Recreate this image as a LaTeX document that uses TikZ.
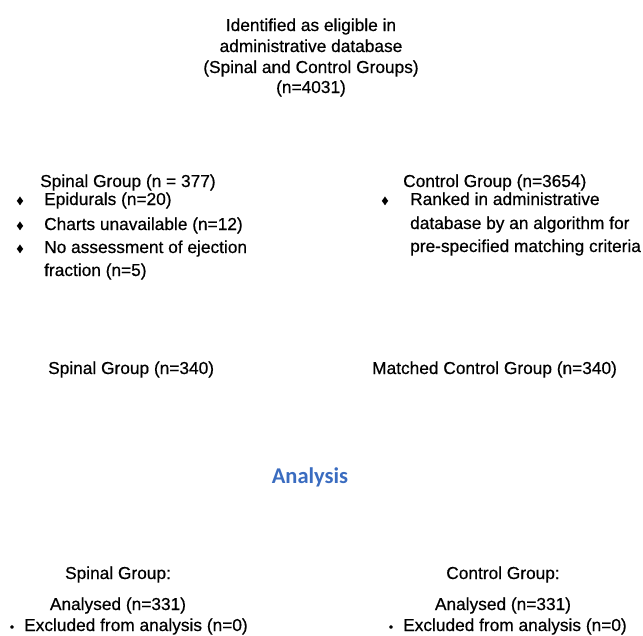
\documentclass[tikz,border=0pt]{standalone}
\usepackage{fontspec}
\setmainfont[FakeBold=0.5]{Liberation Sans}
\newfontfamily\calibrifont{Carlito}
\definecolor{analysisblue}{RGB}{58,108,192}
\tikzset{
    txt/.style={inner sep=0pt, anchor=base west, font=\fontsize{17.3}{21}\selectfont},
    ctxt/.style={inner sep=0pt, anchor=base, font=\fontsize{17.3}{21}\selectfont},
    dmd/.style={inner sep=0pt, anchor=base, font=\fontsize{14}{14}\selectfont},
    dot/.style={inner sep=0pt, anchor=base, font=\fontsize{12}{12}\selectfont},
}
\begin{document}
\begin{tikzpicture}[x=1pt, y=-1pt]
    \useasboundingbox (0,0) rectangle (643,635);
    % eligible population
    \foreach \y/\ytext [count=\i] in {31/Identified as eligible in,52/administrative database,73/(Spinal and Control Groups),93/(n=4031)}
    {
        \node[ctxt] (elig\i) at (311,\y) {\ytext};
    }

    % exclusions, spinal side
    \node[txt] (spinhead) at (40,187) {Spinal Group (n = 377)};
    \foreach \y/\ytext [count=\i] in {205/Epidurals (n=20),230/Charts unavailable (n=12),253/No assessment of ejection}
    {
        \node[dmd] (spindmd\i) at (20,\y) {♦};
        \node[txt] (spinitem\i) at (44,\y) {\ytext};
    }
    \node[txt] (spinitem4) at (44,276) {fraction (n=5)};

    % matching, control side
    \node[txt] (ctrlhead) at (403,187) {Control Group (n=3654)};
    \node[dmd] (ctrldmd) at (385,205) {♦};
    \foreach \y/\ytext [count=\i] in {205/Ranked in administrative,229/database by an algorithm for,252/pre-specified matching criteria}
    {
        \node[txt] (ctrlitem\i) at (410,\y) {\ytext};
    }

    % matched groups
    \node[txt] (spinmatch) at (48,374) {Spinal Group (n=340)};
    \node[txt] (ctrlmatch) at (372,374) {Matched Control Group (n=340)};

    \node[font=\calibrifont\bfseries\fontsize{22.5}{24}\selectfont, text=analysisblue, inner sep=0pt] (analysis) at (310,477) {Analysis};

    % analysed groups
    \foreach \x/\xtext/\xname in {118/Spinal Group:/spin,503/Control Group:/ctrl}
    {
        \node[ctxt] (\xname final) at (\x,579) {\xtext};
        \node[ctxt] (\xname analysed) at (\x,610) {Analysed (n=331)};
    }
    \node[dot] (spinexdot) at (12,631) {•};
    \node[txt] (spinexcl) at (24,631) {Excluded from analysis (n=0)};
    \node[dot] (ctrlexdot) at (391,631) {•};
    \node[txt] (ctrlexcl) at (403,631) {Excluded from analysis (n=0)};
\end{tikzpicture}
\end{document}
